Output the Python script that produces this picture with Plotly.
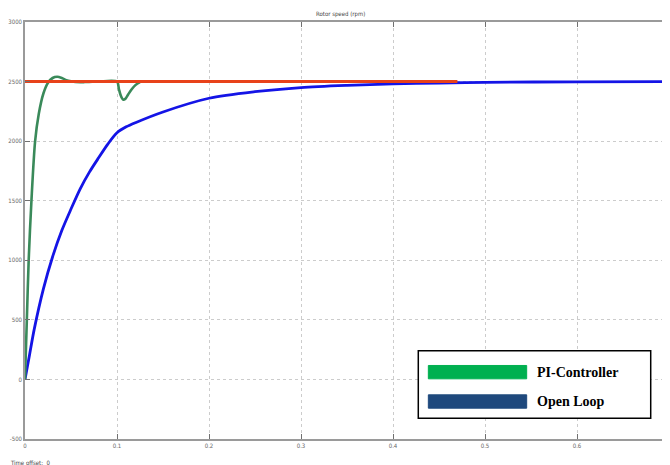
import plotly.graph_objects as go

# Open loop response (rpm)
t_open = [0, 0.005, 0.01, 0.02, 0.03, 0.04, 0.05, 0.06, 0.07, 0.08, 0.09, 0.1,
          0.11, 0.12, 0.15, 0.2, 0.25, 0.3, 0.35, 0.4, 0.45, 0.5, 0.6, 0.7]
v_open = [0, 210, 420, 760, 1030, 1250, 1430, 1600, 1740, 1860, 1975, 2070,
          2120, 2155, 2245, 2360, 2415, 2450, 2468, 2480, 2488, 2494, 2498, 2500]

# PI-controller response (rpm)
t_pi = [0, 0.002, 0.004, 0.007, 0.011, 0.015, 0.02, 0.025,
        0.03, 0.035, 0.04, 0.045, 0.05, 0.055, 0.06, 0.065, 0.08, 0.1,
        0.102, 0.104, 0.1066, 0.109, 0.112, 0.116, 0.12, 0.124, 0.1266, 0.135, 0.148]
v_pi = [0, 500, 1000, 1500, 2000, 2230, 2400, 2490,
        2530, 2540, 2530, 2512, 2502, 2496, 2495, 2496, 2500, 2500,
        2440, 2385, 2349, 2355, 2390, 2435, 2470, 2492, 2500, 2503, 2502]

# Reference speed (rpm)
t_ref = [0, 0.47]
v_ref = [2500, 2500]

x_ticks = [0, 0.1, 0.2, 0.3, 0.4, 0.5, 0.6, 0.7]
x_labels = ["0", "0.1", "0.2", "0.3", "0.4", "0.5", "0.6", "0.7"]
y_ticks = [-500, 0, 500, 1000, 1500, 2000, 2500, 3000]
y_labels = ["-500", "0", "500", "1000", "1500", "2000", "2500", "3000"]

legend_names = ["PI-Controller", "Open Loop"]
legend_colors = ["#00b050", "#1f497d"]

tick_font = dict(family="Liberation Sans Narrow, DejaVu Sans Condensed, Liberation Sans", size=6, color="#666666")

fig = go.Figure()
fig.add_trace(go.Scatter(x=t_open, y=v_open, mode="lines", line=dict(color="#1414e6", width=2.8, shape="spline", smoothing=0.8), showlegend=False))
fig.add_trace(go.Scatter(x=t_pi, y=v_pi, mode="lines", line=dict(color="#3a8a5a", width=2.6, shape="spline", smoothing=0.8), showlegend=False))
fig.add_trace(go.Scatter(x=t_ref, y=v_ref, mode="lines", line=dict(color="#e8421a", width=3), showlegend=False))

axis_common = dict(showgrid=True, gridcolor="#cccccc", griddash="dot", gridwidth=1,
                   showline=True, linecolor="#9a9a9a", linewidth=1.5, mirror="ticks",
                   ticks="inside", ticklen=5, tickcolor="#707070", automargin=False,
                   tickfont=tick_font, zeroline=False)

fig.update_xaxes(range=[0, 0.7], tickvals=x_ticks, ticktext=x_labels, **axis_common)
fig.update_yaxes(range=[-500, 3000], tickvals=y_ticks, ticktext=y_labels, **axis_common)

# Legend drawn as shapes + text
fig.add_shape(type="rect", xref="paper", yref="paper", x0=0.6107, x1=0.9716, y0=0.0496, y1=0.2117,
              line=dict(color="black", width=1.5), fillcolor="white", layer="above")
bar_y = [0.1603, 0.0899]
for name, col, yy in zip(legend_names, legend_colors, bar_y):
    fig.add_shape(type="rect", xref="paper", yref="paper", x0=0.6263, x1=0.779, y0=yy - 0.016, y1=yy + 0.016,
                  line=dict(color=col, width=1), fillcolor=col, layer="above")
    fig.add_annotation(xref="paper", yref="paper", x=0.792, y=yy, text="<b>%s</b>" % name, showarrow=False,
                       xanchor="left", yanchor="middle",
                       font=dict(family="Liberation Serif, Times New Roman", size=14, color="black"))

fig.add_annotation(xref="paper", yref="paper", x=0.49, y=1.0, yshift=8, text="Rotor speed (rpm)", showarrow=False,
                   yanchor="middle",
                   font=dict(family="Liberation Sans Narrow, DejaVu Sans Condensed, Liberation Sans", size=6, color="#444444"))
fig.add_annotation(xref="paper", yref="paper", x=0.0, xshift=-17, y=0.0, yshift=-23, text="Time offset:  0",
                   showarrow=False, xanchor="left", yanchor="middle",
                   font=dict(family="Liberation Sans Narrow, DejaVu Sans Condensed, Liberation Sans", size=6, color="#444444"))

fig.update_layout(width=662, height=457, margin=dict(l=17, r=1, t=14, b=26),
                  paper_bgcolor="white", plot_bgcolor="white", showlegend=False)

fig.write_html("out.html")
